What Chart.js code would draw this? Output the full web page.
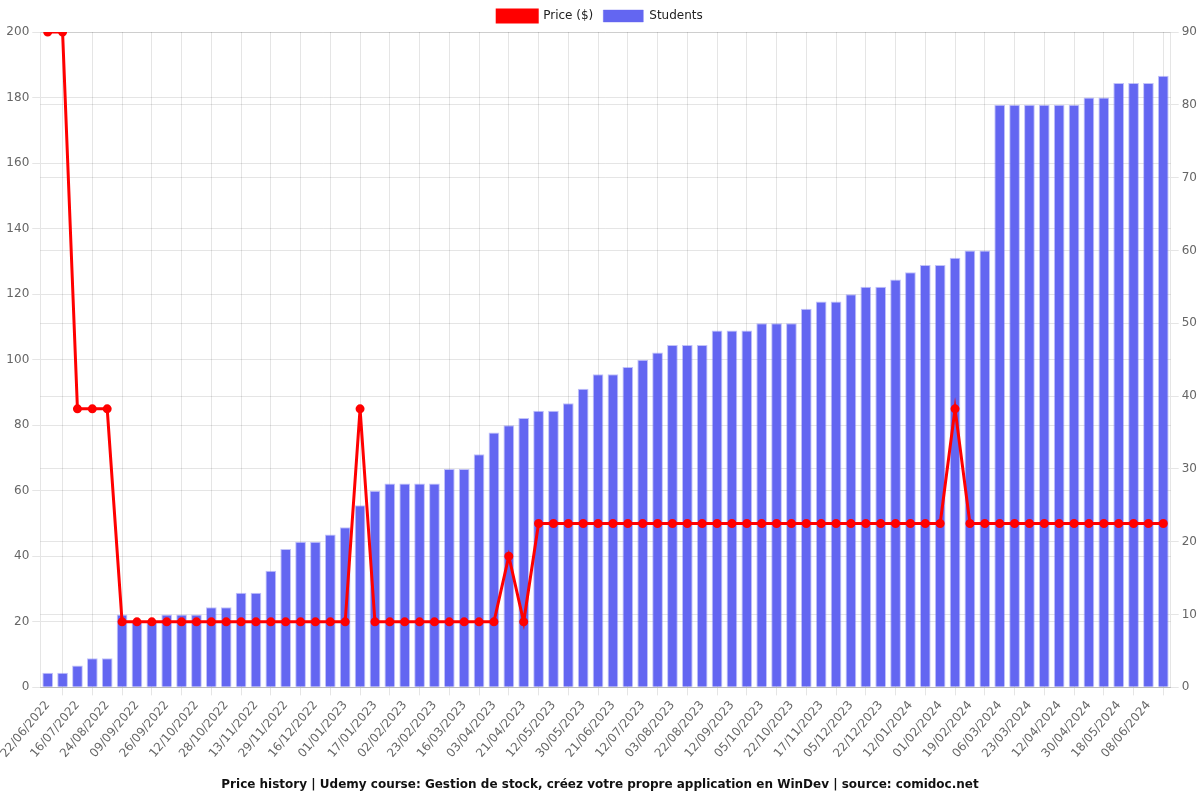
<!DOCTYPE html>
<html>
<head>
<meta charset="utf-8">
<script src="https://cdn.jsdelivr.net/npm/chart.js@4/dist/chart.umd.min.js"></script>
<style>
  html, body { margin: 0; padding: 0; background: #fff; }
  #wrap { width: 1200px; height: 800px; }
</style>
</head>
<body>
<div id="wrap"><canvas id="grafica"></canvas></div>
<script>
const fechas = [
  "22/06/2022", "04/07/2022", "16/07/2022", "05/08/2022", "24/08/2022", "01/09/2022",
  "09/09/2022", "17/09/2022", "26/09/2022", "04/10/2022", "12/10/2022", "20/10/2022",
  "28/10/2022", "05/11/2022", "13/11/2022", "21/11/2022", "29/11/2022", "07/12/2022",
  "16/12/2022", "24/12/2022", "01/01/2023", "09/01/2023", "17/01/2023", "25/01/2023",
  "02/02/2023", "12/02/2023", "23/02/2023", "06/03/2023", "16/03/2023", "25/03/2023",
  "03/04/2023", "12/04/2023", "21/04/2023", "01/05/2023", "12/05/2023", "21/05/2023",
  "30/05/2023", "10/06/2023", "21/06/2023", "01/07/2023", "12/07/2023", "23/07/2023",
  "03/08/2023", "12/08/2023", "22/08/2023", "01/09/2023", "12/09/2023", "23/09/2023",
  "05/10/2023", "13/10/2023", "22/10/2023", "04/11/2023", "17/11/2023", "26/11/2023",
  "05/12/2023", "13/12/2023", "22/12/2023", "01/01/2024", "12/01/2024", "22/01/2024",
  "01/02/2024", "10/02/2024", "19/02/2024", "27/02/2024", "06/03/2024", "14/03/2024",
  "23/03/2024", "02/04/2024", "12/04/2024", "21/04/2024", "30/04/2024", "09/05/2024",
  "18/05/2024", "28/05/2024", "08/06/2024", "18/06/2024"
];

const precios = [
  200, 200, 85, 85, 85, 20, 20, 20, 20, 20, 20, 20,
  20, 20, 20, 20, 20, 20, 20, 20, 20, 85, 20, 20,
  20, 20, 20, 20, 20, 20, 20, 40, 20, 50, 50, 50,
  50, 50, 50, 50, 50, 50, 50, 50, 50, 50, 50, 50,
  50, 50, 50, 50, 50, 50, 50, 50, 50, 50, 50, 50,
  50, 85, 50, 50, 50, 50, 50, 50, 50, 50, 50, 50,
  50, 50, 50, 50
];

const estudiantes = [
  2, 2, 3, 4, 4, 10, 9, 9, 10, 10, 10, 11,
  11, 13, 13, 16, 19, 20, 20, 21, 22, 25, 27, 28,
  28, 28, 28, 30, 30, 32, 35, 36, 37, 38, 38, 39,
  41, 43, 43, 44, 45, 46, 47, 47, 47, 49, 49, 49,
  50, 50, 50, 52, 53, 53, 54, 55, 55, 56, 57, 58,
  58, 59, 60, 60, 80, 80, 80, 80, 80, 80, 81, 81,
  83, 83, 83, 84
];

const titulo = "Price history | Udemy course: Gestion de stock, créez votre propre application en WinDev | source: comidoc.net";

Chart.defaults.font.family = "'DejaVu Sans', sans-serif";
Chart.defaults.font.size = 12;
Chart.defaults.color = "#666";

const $grafica = document.querySelector("#grafica");

new Chart($grafica, {
  type: 'bar',
  data: {
    labels: fechas,
    datasets: [
      {
        type: 'line',
        label: "Price ($)",
        data: precios,
        yAxisID: 'y',
        borderColor: 'rgba(255,0,0,1)',
        backgroundColor: 'rgba(255,0,0,1)',
        borderWidth: 3,
        pointRadius: 3,
        pointBackgroundColor: 'rgba(255,0,0,1)',
        pointBorderColor: 'rgba(255,0,0,1)',
        tension: 0,
        order: 0,
      },
      {
        label: "Students",
        data: estudiantes,
        yAxisID: 'y1',
        backgroundColor: 'rgba(99,102,241,1)',
        borderColor: 'rgba(99,102,241,0.4)',
        borderWidth: 1,
        order: 1,
      },
    ]
  },
  options: {
    responsive: true,
    maintainAspectRatio: false,
    animation: false,
    plugins: {
      legend: {
        position: 'top',
        labels: { color: '#222', boxWidth: 40, boxHeight: 12 }
      },
      title: {
        display: true,
        text: titulo,
        position: 'bottom',
        color: '#111',
        font: { size: 12, weight: 'bold' },
        padding: { top: 14, bottom: 8 }
      },
      tooltip: { enabled: false }
    },
    scales: {
      x: {
        ticks: { color: '#666' },
        grid: { color: 'rgba(0,0,0,0.1)' }
      },
      y: {
        position: 'left',
        min: 0,
        max: 200,
        ticks: { stepSize: 20 },
        grid: { color: 'rgba(0,0,0,0.1)' }
      },
      y1: {
        position: 'right',
        min: 0,
        max: 90,
        ticks: { stepSize: 10 },
        grid: { color: 'rgba(0,0,0,0.1)' }
      }
    }
  }
});
</script>
</body>
</html>
